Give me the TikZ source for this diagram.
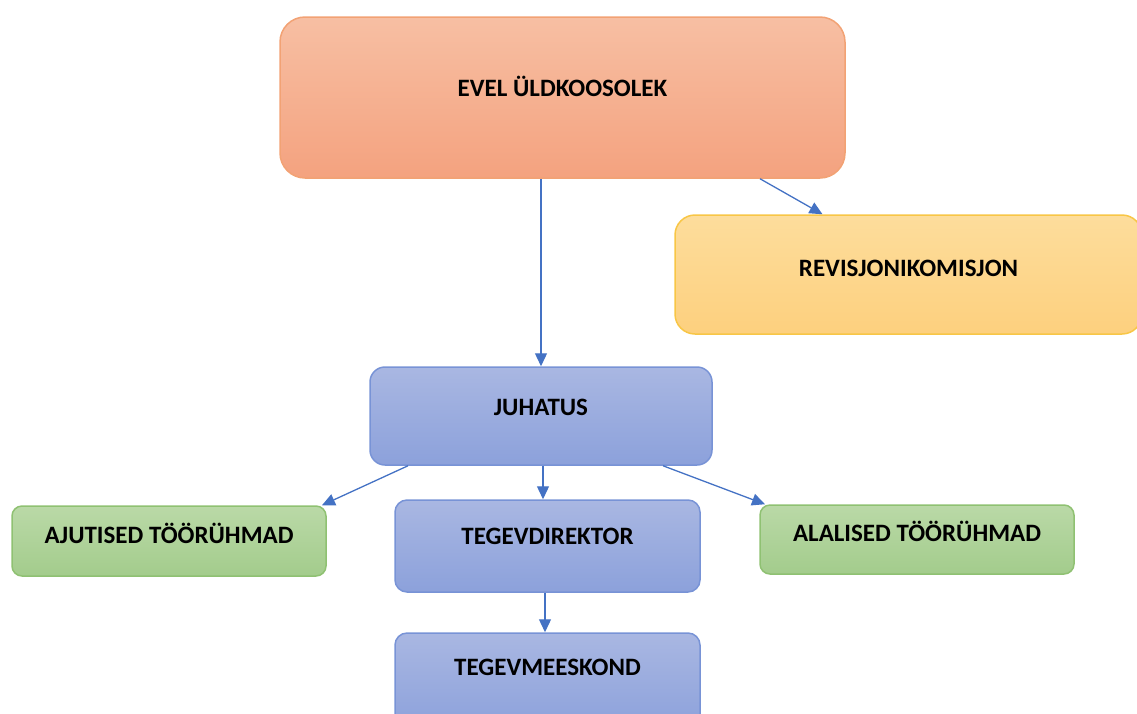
\documentclass[tikz,border=0pt]{standalone}
\usepackage{fontspec}
\setmainfont{Carlito}
\usetikzlibrary{arrows.meta}
\definecolor{orTop}{HTML}{F7BFA3}
\definecolor{orBot}{HTML}{F4A27F}
\definecolor{orLine}{HTML}{F2A274}
\definecolor{yeTop}{HTML}{FDDD9C}
\definecolor{yeBot}{HTML}{FDD07E}
\definecolor{yeLine}{HTML}{F8C646}
\definecolor{blTop}{HTML}{A9B7E2}
\definecolor{blBot}{HTML}{8CA1DB}
\definecolor{blLine}{HTML}{7893D6}
\definecolor{grTop}{HTML}{BAD9A7}
\definecolor{grBot}{HTML}{A3CC8C}
\definecolor{grLine}{HTML}{8FC172}
\definecolor{arrCol}{HTML}{4472C4}
\newcommand{\lift}[2]{\raisebox{#1}[\height][\depth]{#2}}
\tikzset{
  box/.style={draw, line width=1.5pt, inner sep=0pt,
    font=\fontsize{25}{30}\selectfont\bfseries, text height=17pt, text depth=0pt},
  orbox/.style={box, top color=orTop, bottom color=orBot, draw=orLine},
  yebox/.style={box, top color=yeTop, bottom color=yeBot, draw=yeLine},
  blbox/.style={box, top color=blTop, bottom color=blBot, draw=blLine},
  grbox/.style={box, top color=grTop, bottom color=grBot, draw=grLine},
  arr/.style={draw=arrCol, line width=1.3pt, -{Triangle[length=13pt,width=12pt]}, arrCol}
}
\begin{document}
\begin{tikzpicture}[x=1pt,y=-1pt]
\useasboundingbox (0,0) rectangle (1137,713);
\node[orbox, rounded corners=25pt, minimum width=565pt, minimum height=161pt] (top) at (562.5,97.5) {\lift{9.5pt}{EVEL ÜLDKOOSOLEK}};
\node[yebox, rounded corners=20pt, minimum width=467pt, minimum height=119pt] (rev) at (908.5,274.5) {\lift{6.5pt}{REVISJONIKOMISJON}};
\node[blbox, rounded corners=15pt, minimum width=342pt, minimum height=98pt] (juh) at (541,416) {\lift{9pt}{JUHATUS}};
\node[grbox, rounded corners=10pt, minimum width=314pt, minimum height=70pt] (aj) at (169,541) {\lift{6pt}{AJUTISED TÖÖRÜHMAD}};
\node[blbox, rounded corners=12pt, minimum width=305pt, minimum height=92pt] (td) at (547.5,546) {\lift{10pt}{TEGEVDIREKTOR}};
\node[grbox, rounded corners=10pt, minimum width=314pt, minimum height=69pt] (al) at (917,539.5) {\lift{6.5pt}{ALALISED TÖÖRÜHMAD}};
\node[blbox, rounded corners=12pt, minimum width=305pt, minimum height=97pt] (tm) at (547.5,681.5) {\lift{14.5pt}{TEGEVMEESKOND}};
\draw[arr] (top.south -| juh.north) -- (juh.north);
\draw[arr] ([xshift=197.5pt]top.south) -- ([xshift=-86pt]rev.north);
\draw[arr] ([xshift=-133pt]juh.south) -- ([xshift=153pt]aj.north);
\draw[arr] ([xshift=2pt]juh.south) -- ([xshift=-4.5pt]td.north);
\draw[arr] ([xshift=122pt]juh.south) -- ([xshift=-152pt]al.north);
\draw[arr] ([xshift=-2.5pt]td.south) -- ([xshift=-2.5pt]tm.north);
\end{tikzpicture}
\end{document}
